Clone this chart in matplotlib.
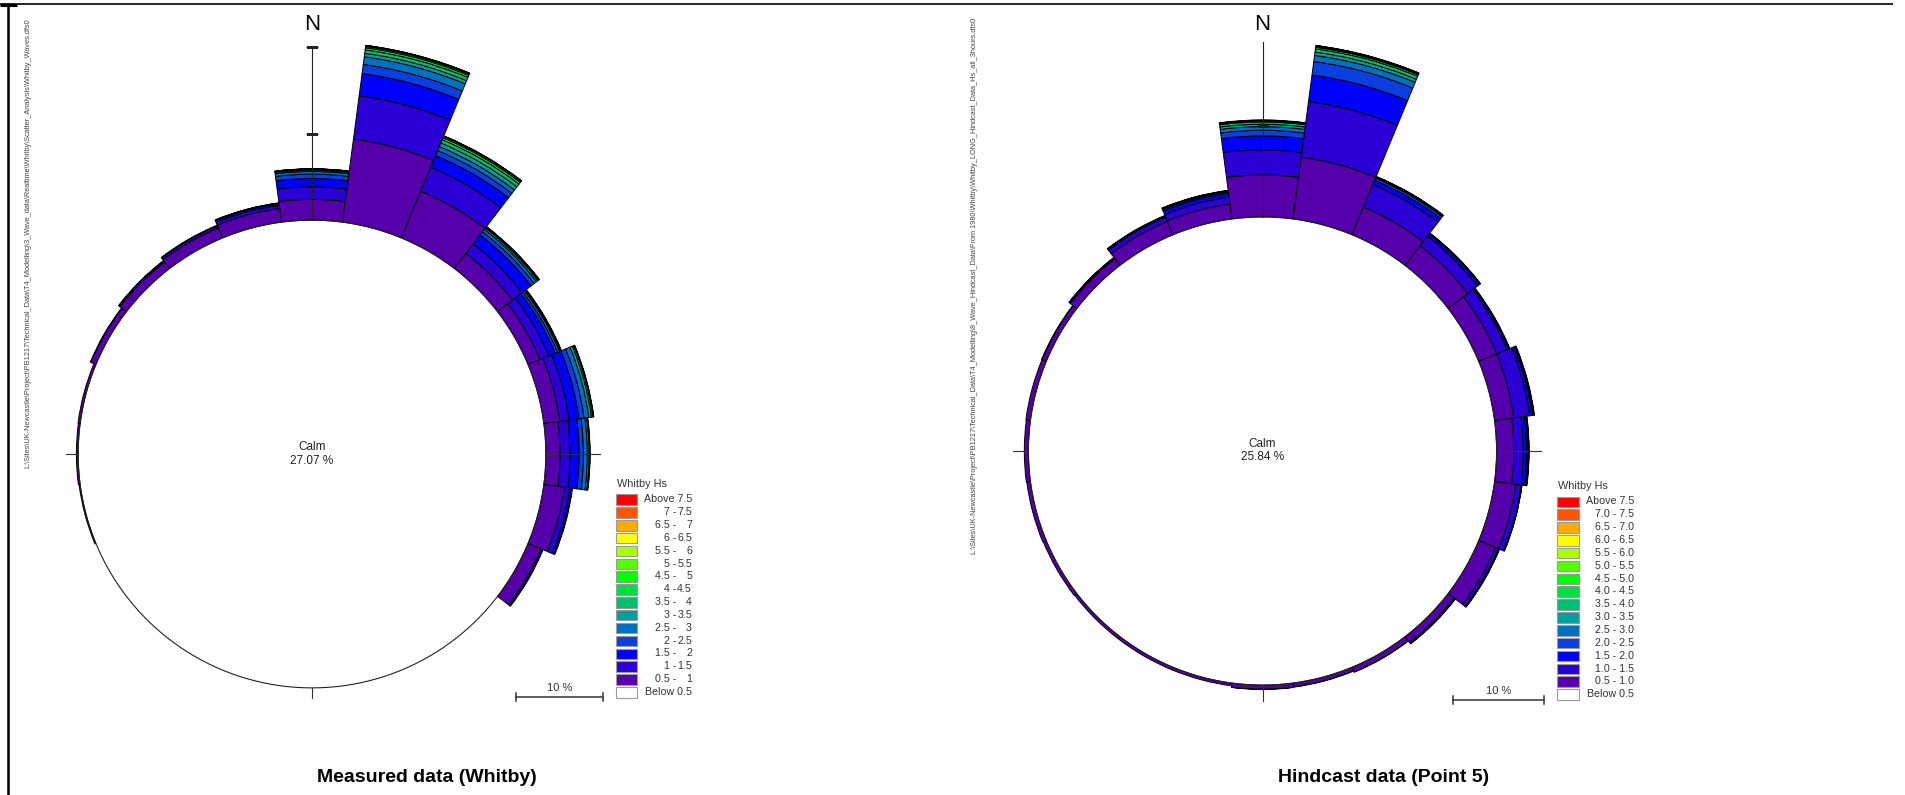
import numpy as np
import matplotlib
matplotlib.use("Agg")
import matplotlib.pyplot as plt
from matplotlib.patches import Rectangle
from matplotlib import font_manager

# ---------------------------------------------------------------- data
directions = np.arange(0, 360, 15)          # sector centres, degrees from north
hs_edges = [0.5, 1.0, 1.5, 2.0, 2.5, 3.0, 3.5, 4.0, 4.5, 5.0, 5.5, 6.0, 6.5, 7.0, 7.5]
bin_colors = ["#5500aa", "#2b00d5", "#0000ff", "#0a40e0", "#0070c0", "#00a0a0",
              "#00c070", "#00e040", "#00ff00", "#55ff00", "#aaff00", "#ffff00",
              "#ffaa00", "#ff5500", "#ff0000"]

# frequency (%) per Hs class (rows, from 0.5-1.0 m upward) and direction (columns)
measured_calm = 27.07
measured_freq = [
    # N    15    30    45    60    75    90   105   120  135 150 165 180 195 210 225 240  255   270   285   300   315   330   345
    [2.40, 9.70, 5.85, 2.20, 1.50, 1.85, 1.65, 2.40, 1.60, 0, 0, 0, 0, 0, 0, 0, 0, 0.12, 0.20, 0.25, 0.65, 0.95, 1.25, 1.60],
    [1.46, 5.05, 3.00, 1.40, 1.10, 1.10, 1.15, 0.62, 0.20, 0, 0, 0, 0, 0, 0, 0, 0, 0.00, 0.00, 0.00, 0.05, 0.15, 0.25, 0.35],
    [0.97, 2.60, 1.47, 1.30, 0.80, 1.15, 1.05, 0.25, 0.08, 0, 0, 0, 0, 0, 0, 0, 0, 0.00, 0.00, 0.00, 0.00, 0.05, 0.10, 0.20],
    [0.50, 1.05, 0.63, 0.45, 0.30, 0.60, 0.50, 0.07, 0.00, 0, 0, 0, 0, 0, 0, 0, 0, 0.00, 0.00, 0.00, 0.00, 0.00, 0.00, 0.07],
    [0.30, 0.90, 0.50, 0.35, 0.25, 0.55, 0.45, 0.00, 0.00, 0, 0, 0, 0, 0, 0, 0, 0, 0.00, 0.00, 0.00, 0.00, 0.00, 0.00, 0.03],
    [0.15, 0.40, 0.45, 0.20, 0.12, 0.30, 0.20, 0.00, 0.00, 0, 0, 0, 0, 0, 0, 0, 0, 0.00, 0.00, 0.00, 0.00, 0.00, 0.00, 0.00],
    [0.10, 0.40, 0.40, 0.12, 0.08, 0.17, 0.08, 0.00, 0.00, 0, 0, 0, 0, 0, 0, 0, 0, 0.00, 0.00, 0.00, 0.00, 0.00, 0.00, 0.00],
    [0.05, 0.25, 0.25, 0.06, 0.04, 0.08, 0.04, 0.00, 0.00, 0, 0, 0, 0, 0, 0, 0, 0, 0.00, 0.00, 0.00, 0.00, 0.00, 0.00, 0.00],
    [0.02, 0.15, 0.15, 0.03, 0.00, 0.03, 0.00, 0.00, 0.00, 0, 0, 0, 0, 0, 0, 0, 0, 0.00, 0.00, 0.00, 0.00, 0.00, 0.00, 0.00],
    [0.00, 0.08, 0.06, 0.00, 0.00, 0.00, 0.00, 0.00, 0.00, 0, 0, 0, 0, 0, 0, 0, 0, 0.00, 0.00, 0.00, 0.00, 0.00, 0.00, 0.00],
    [0.00, 0.04, 0.03, 0.00, 0.00, 0.00, 0.00, 0.00, 0.00, 0, 0, 0, 0, 0, 0, 0, 0, 0.00, 0.00, 0.00, 0.00, 0.00, 0.00, 0.00],
    [0.00, 0.02, 0.00, 0.00, 0.00, 0.00, 0.00, 0.00, 0.00, 0, 0, 0, 0, 0, 0, 0, 0, 0.00, 0.00, 0.00, 0.00, 0.00, 0.00, 0.00],
]

hindcast_calm = 25.84
hindcast_freq = [
    # N    15    30    45    60    75    90   105   120   135   150   165   180   195   210   225   240   255   270   285   300   315   330   345
    [4.63, 6.87, 3.30, 2.73, 2.15, 2.13, 1.90, 2.35, 2.00, 0.80, 0.55, 0.40, 0.45, 0.30, 0.30, 0.30, 0.35, 0.40, 0.45, 0.50, 0.50, 0.90, 1.60, 1.66],
    [2.76, 6.20, 2.70, 1.32, 1.24, 1.77, 1.03, 0.60, 0.35, 0.15, 0.05, 0.05, 0.03, 0.00, 0.00, 0.00, 0.00, 0.00, 0.00, 0.00, 0.05, 0.15, 0.50, 0.77],
    [1.55, 2.95, 0.50, 0.30, 0.20, 0.30, 0.40, 0.08, 0.10, 0.05, 0.00, 0.00, 0.00, 0.00, 0.00, 0.00, 0.00, 0.00, 0.00, 0.00, 0.00, 0.05, 0.15, 0.40],
    [0.62, 1.50, 0.25, 0.10, 0.08, 0.12, 0.15, 0.02, 0.03, 0.00, 0.00, 0.00, 0.00, 0.00, 0.00, 0.00, 0.00, 0.00, 0.00, 0.00, 0.00, 0.00, 0.05, 0.15],
    [0.40, 0.68, 0.12, 0.05, 0.04, 0.07, 0.07, 0.00, 0.00, 0.00, 0.00, 0.00, 0.00, 0.00, 0.00, 0.00, 0.00, 0.00, 0.00, 0.00, 0.00, 0.00, 0.00, 0.10],
    [0.27, 0.37, 0.06, 0.00, 0.00, 0.05, 0.04, 0.00, 0.00, 0.00, 0.00, 0.00, 0.00, 0.00, 0.00, 0.00, 0.00, 0.00, 0.00, 0.00, 0.00, 0.00, 0.00, 0.06],
    [0.25, 0.35, 0.03, 0.00, 0.00, 0.00, 0.00, 0.00, 0.00, 0.00, 0.00, 0.00, 0.00, 0.00, 0.00, 0.00, 0.00, 0.00, 0.00, 0.00, 0.00, 0.00, 0.00, 0.04],
    [0.12, 0.18, 0.00, 0.00, 0.00, 0.00, 0.00, 0.00, 0.00, 0.00, 0.00, 0.00, 0.00, 0.00, 0.00, 0.00, 0.00, 0.00, 0.00, 0.00, 0.00, 0.00, 0.00, 0.00],
    [0.06, 0.10, 0.00, 0.00, 0.00, 0.00, 0.00, 0.00, 0.00, 0.00, 0.00, 0.00, 0.00, 0.00, 0.00, 0.00, 0.00, 0.00, 0.00, 0.00, 0.00, 0.00, 0.00, 0.00],
    [0.04, 0.06, 0.00, 0.00, 0.00, 0.00, 0.00, 0.00, 0.00, 0.00, 0.00, 0.00, 0.00, 0.00, 0.00, 0.00, 0.00, 0.00, 0.00, 0.00, 0.00, 0.00, 0.00, 0.00],
    [0.00, 0.03, 0.00, 0.00, 0.00, 0.00, 0.00, 0.00, 0.00, 0.00, 0.00, 0.00, 0.00, 0.00, 0.00, 0.00, 0.00, 0.00, 0.00, 0.00, 0.00, 0.00, 0.00, 0.00],
    [0.00, 0.02, 0.00, 0.00, 0.00, 0.00, 0.00, 0.00, 0.00, 0.00, 0.00, 0.00, 0.00, 0.00, 0.00, 0.00, 0.00, 0.00, 0.00, 0.00, 0.00, 0.00, 0.00, 0.00],
]

legend_title = "Whitby Hs"
measured_title = "Measured data (Whitby)"
hindcast_title = "Hindcast data (Point 5)"
measured_path = (r"L:\Sites\UK-Newcastle\Project\PB1217\Technical_Data\T4_Modelling"
                 r"\3_Wave_data\Realtime\Whitby\Scatter_Analysis\Whitby_Waves.dfs0")
hindcast_path = (r"L:\Sites\UK-Newcastle\Project\PB1217\Technical_Data\T4_Modelling"
                 r"\8_Wave_Hindcast_Data\From 1980\Whitby\Whitby_LONG_Hindcast_Data_Hs_all_3hours.dfs0")

# ---------------------------------------------------------------- figure
W, H = 1906, 795
fig = plt.figure(figsize=(W / 100, H / 100), dpi=100)
fig.patch.set_facecolor("white")

BASE_FONT = "Liberation Sans"


def has_font(name):
    try:
        font_manager.findfont(font_manager.FontProperties(family=name),
                              fallback_to_default=False)
        return True
    except Exception:
        return False


TITLE_FONT = "Liberation Sans Narrow" if has_font("Liberation Sans Narrow") else BASE_FONT

# overlay in pixel coordinates for annotation, legend and frame
ov = fig.add_axes([0, 0, 1, 1], zorder=10)
ov.set_xlim(0, W)
ov.set_ylim(H, 0)
ov.axis("off")
ov.patch.set_alpha(0)

R_MAX = 50.0
SECTOR = np.deg2rad(15)


def draw_rose(cx, cy, px_per_pct, calm, freq, n_axis_len, tick_ext):
    R = R_MAX * px_per_pct
    ax = fig.add_axes([(cx - R) / W, (H - cy - R) / H, 2 * R / W, 2 * R / H],
                      projection="polar", zorder=2)
    ax.set_theta_zero_location("N")
    ax.set_theta_direction(-1)
    ax.set_rlim(0, R_MAX)
    ax.set_facecolor("none")
    ax.grid(False)
    ax.set_xticks([])
    ax.set_yticks([])
    ax.spines["polar"].set_visible(False)

    theta = np.deg2rad(directions)
    bottom = np.full(len(directions), calm, dtype=float)
    for k, row in enumerate(freq):
        vals = np.asarray(row, dtype=float)
        m = vals > 0
        if m.any():
            ax.bar(theta[m], vals[m], width=SECTOR, bottom=bottom[m],
                   color=bin_colors[k], edgecolor="black", linewidth=0.7,
                   align="center", zorder=2)
        bottom += vals

    # calm circle
    t = np.linspace(0, 2 * np.pi, 721)
    ax.plot(t, np.full_like(t, calm), color="#222222", lw=0.8, zorder=3)

    # north axis with 10 % ticks
    ax.plot([0, 0], [calm, calm + n_axis_len], color="#222222", lw=0.8, zorder=4)
    for step in np.arange(10, n_axis_len + 0.01, 10):
        ax.plot([0], [calm + step], marker="_", ms=9, mew=0.8,
                color="#222222", zorder=4)

    # short east / south / west ticks just beyond each sector
    for deg in (90, 180, 270):
        i = list(directions).index(deg)
        ax.plot([np.deg2rad(deg)] * 2, [calm, bottom[i] + tick_ext],
                color="#333333", lw=0.8, zorder=4)
    return ax


def draw_legend(x_box, y_title, y_first, dy, x_label, labels, two_col=None):
    ov.text(x_box + 1, y_title, legend_title, fontsize=7.8, family=BASE_FONT,
            color="#333333", ha="left", va="center")
    cols = list(bin_colors[::-1]) + ["white"]
    for j, (c, lab) in enumerate(zip(cols, labels)):
        y = y_first + j * dy
        ov.add_patch(Rectangle((x_box, y - 5), 21.5, 10.5, facecolor=c,
                               edgecolor="#9a9a9a", lw=0.8))
        if two_col is not None and isinstance(lab, tuple):
            ov.text(two_col, y, lab[0], fontsize=7.7, family=BASE_FONT,
                    color="#333333", ha="right", va="center")
            ov.text(x_label, y, lab[1], fontsize=7.7, family=BASE_FONT,
                    color="#333333", ha="right", va="center")
        else:
            ov.text(x_label, y, lab, fontsize=7.7, family=BASE_FONT,
                    color="#333333", ha="right", va="center")


def scale_bar(x0, y, px_per_pct):
    L = 10 * px_per_pct
    ov.plot([x0, x0 + L], [y, y], color="#333333", lw=1.1)
    for xx in (x0, x0 + L):
        ov.plot([xx, xx], [y - 4, y + 4], color="#333333", lw=1.1)
    ov.text(x0 + L / 2, y - 4, "10 %", fontsize=8, family=BASE_FONT,
            color="#333333", ha="center", va="bottom")


# left rose: measured
L_CX, L_CY, L_PX = 312, 454, 8.64
draw_rose(L_CX, L_CY, L_PX, measured_calm, measured_freq, 20.0, 1.2)
# right rose: hindcast
R_CX, R_CY, R_PX = 1262.5, 451, 9.06
draw_rose(R_CX, R_CY, R_PX, hindcast_calm, hindcast_freq, 19.3, 1.3)

# north labels
for cx in (L_CX, R_CX):
    ov.text(cx, 24, "N", fontsize=16, family=BASE_FONT, ha="center", va="center")

# calm labels
ov.text(L_CX, 447, "Calm", fontsize=8.5, family=BASE_FONT, color="#222222", ha="center", va="center")
ov.text(L_CX, 460.5, f"{measured_calm:.2f} %", fontsize=8.5, family=BASE_FONT,
        color="#222222", ha="center", va="center")
ov.text(R_CX, 444, "Calm", fontsize=8.5, family=BASE_FONT, color="#222222", ha="center", va="center")
ov.text(R_CX, 457.5, f"{hindcast_calm:.2f} %", fontsize=8.5, family=BASE_FONT,
        color="#222222", ha="center", va="center")

# legends
lo = hs_edges[:-1][::-1]
hi = hs_edges[1:][::-1]
left_labels = ([f"Above {hs_edges[-1]:g}"] +
               [(f"{a:g} -", f"{b:g}") for a, b in zip(lo, hi)] +
               [f"Below {hs_edges[0]:g}"])
right_labels = ([f"Above {hs_edges[-1]:.1f}"] +
                [f"{a:.1f} - {b:.1f}" for a, b in zip(lo, hi)] +
                [f"Below {hs_edges[0]:.1f}"])
draw_legend(616, 484, 499.3, 12.85, 692, left_labels, two_col=676)
draw_legend(1557.5, 486, 501.5, 12.85, 1634, right_labels)

# scale bars
scale_bar(516.5, 697, L_PX)
scale_bar(1453, 700, R_PX)

# file paths along the left edge of each panel
ov.text(28, 18, measured_path, rotation=90, fontsize=5.3, family=BASE_FONT,
        color="#444444", ha="center", va="top")
ov.text(975, 18, hindcast_path, rotation=90, fontsize=5.3, family=BASE_FONT,
        color="#444444", ha="center", va="top")

# panel titles
ov.text(427, 778, measured_title, fontsize=14, family=TITLE_FONT,
        fontweight="bold", ha="center", va="center")
ov.text(1384, 778, hindcast_title, fontsize=14, family=TITLE_FONT,
        fontweight="bold", ha="center", va="center")

# page frame
ov.plot([0, 1893], [3.5, 3.5], color="black", lw=1.2, solid_capstyle="butt")
ov.plot([0, 17], [5, 5], color="black", lw=2.2, solid_capstyle="butt")
ov.plot([8, 8], [4, H], color="black", lw=1.8, solid_capstyle="butt")

fig.savefig("out.png", dpi=100, facecolor="white")
